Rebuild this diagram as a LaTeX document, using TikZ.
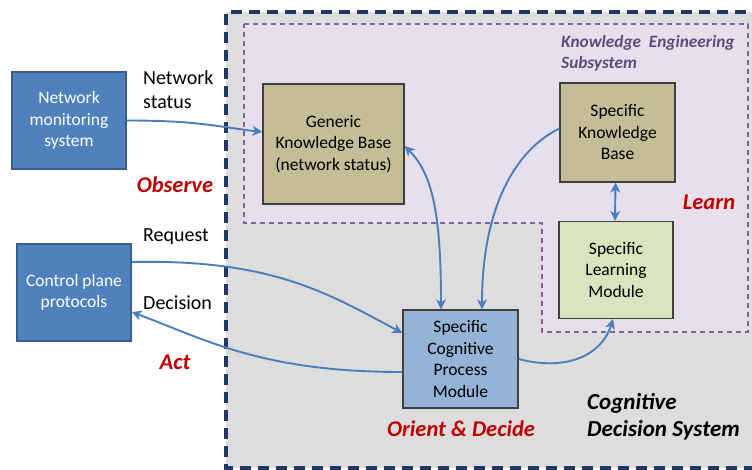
\documentclass[tikz,border=0pt]{standalone}
\usepackage{fontspec}
\setmainfont{Carlito}
\usetikzlibrary{arrows.meta}
\definecolor{bgGray}{HTML}{DDDDDD}
\definecolor{navyDash}{HTML}{1F3864}
\definecolor{purFill}{HTML}{E6E0EC}
\definecolor{purDash}{HTML}{8064A2}
\definecolor{purText}{HTML}{604A7B}
\definecolor{redText}{HTML}{C00000}
\definecolor{blueFill}{HTML}{4F81BD}
\definecolor{blueBorder}{HTML}{385D8A}
\definecolor{lblueFill}{HTML}{95B3D7}
\definecolor{khaki}{HTML}{C4BD97}
\definecolor{lgreen}{HTML}{D7E4BD}
\definecolor{arrowBlue}{HTML}{4A7EBB}
\definecolor{boxBorder}{HTML}{404040}
\tikzset{
  boxbase/.style={draw, line width=1.3pt, align=center, inner sep=2pt,
    font=\fontsize{17.5}{21.5}\selectfont},
  bluebox/.style={boxbase, fill=blueFill, draw=blueBorder, text=white,
    minimum width=114pt, minimum height=97pt},
  kbbox/.style={boxbase, fill=khaki, draw=boxBorder},
  lmbox/.style={boxbase, fill=lgreen, draw=boxBorder},
  cpbox/.style={boxbase, fill=lblueFill, draw=boxBorder},
  conn/.style={draw=arrowBlue, line width=1.9pt,
    -{Stealth[length=10pt,width=10pt,inset=3pt]}},
  dconn/.style={draw=arrowBlue, line width=1.9pt,
    {Stealth[length=10pt,width=10pt,inset=3pt]}-{Stealth[length=10pt,width=10pt,inset=3pt]}},
  lbl/.style={inner sep=0pt, align=left, font=\fontsize{20}{24.5}\selectfont},
  redlbl/.style={inner sep=0pt, text=redText, font=\fontsize{22.5}{26}\selectfont\bfseries\itshape},
}
\begin{document}
\begin{tikzpicture}[x=1pt,y=-1pt]
\useasboundingbox (0,0) rectangle (752,470);
\begin{scope}
\clip (0,0) rectangle (752,470);
\fill[bgGray] (226,12) rectangle (800,468);
\draw[navyDash, line width=3.2pt, dash pattern=on 11pt off 7pt] (800,12) -- (226,12) -- (226,468) -- (800,468);
\end{scope}
\draw[purDash, fill=purFill, line width=1.2pt, dash pattern=on 5pt off 4pt]
  (244,24) -- (748,24) -- (748,332) -- (542,332) -- (542,223) -- (244,223) -- cycle;

\node[purText, inner sep=0pt, align=left, anchor=west,
  font=\fontsize{17.3}{21}\selectfont\bfseries\itshape] (kes) at (561,53.5)
  {Knowledge\ \ Engineering\\Subsystem};
\node[inner sep=0pt, align=left, anchor=west,
  font=\fontsize{23}{27}\selectfont\bfseries\itshape] (cds) at (587,416.5)
  {Cognitive\\Decision System};

\node[bluebox] (nms) at (69,120.5) {Network\\monitoring\\system};
\node[bluebox] (cpp) at (74,292.5) {Control plane\\protocols};
\node[kbbox, minimum width=141pt, minimum height=120pt] (gkb) at (333.5,144)
  {Generic\\Knowledge Base\\(network status)};
\node[kbbox, minimum width=115pt, minimum height=99pt] (skb) at (617.5,132.5)
  {Specific\\Knowledge\\Base};
\node[lmbox, minimum width=114pt, minimum height=97pt] (slm) at (616,270)
  {Specific\\Learning\\Module};
\node[cpbox, minimum width=115pt, minimum height=98pt] (cpm) at (460.5,359)
  {Specific\\Cognitive\\Process\\Module};

\node[lbl, anchor=west] (ns) at (143,89.5) {Network\\status};
\node[lbl, anchor=west] (req) at (143,237) {Request};
\node[lbl, anchor=west] (dec) at (143,303) {Decision};
\node[redlbl] (obs) at (175,185) {Observe};
\node[redlbl] (act) at (175,362) {Act};
\node[redlbl] (od) at (461,429) {Orient \& Decide};
\node[redlbl] (learn) at (709,202) {Learn};

\draw[conn] (nms.east) .. controls +(70,0) and +(-50,-6) .. ([yshift=12pt]gkb.west);
\draw[dconn] ([yshift=-2pt]gkb.east) .. controls +(28,28) and +(0,-95) .. ([xshift=-19.5pt]cpm.north);
\draw[conn] ([yshift=4pt]skb.west) .. controls +(-45,22) and +(0,-100) .. ([xshift=21.5pt]cpm.north);
\draw[dconn] ([xshift=-2pt]skb.south) -- ([xshift=-1pt]slm.north);
\draw[conn] ([yshift=30.5pt]cpp.east) .. controls +(140,-3) and +(-75,-40) .. ([yshift=26pt]cpm.west);
\draw[conn] ([yshift=-13pt]cpm.west) .. controls +(-140,0) and +(75,28) .. ([yshift=-19.5pt]cpp.east);
\draw[conn] (cpm.east) .. controls +(45,12) and +(-12,38) .. ([xshift=-3pt]slm.south);
\end{tikzpicture}
\end{document}
